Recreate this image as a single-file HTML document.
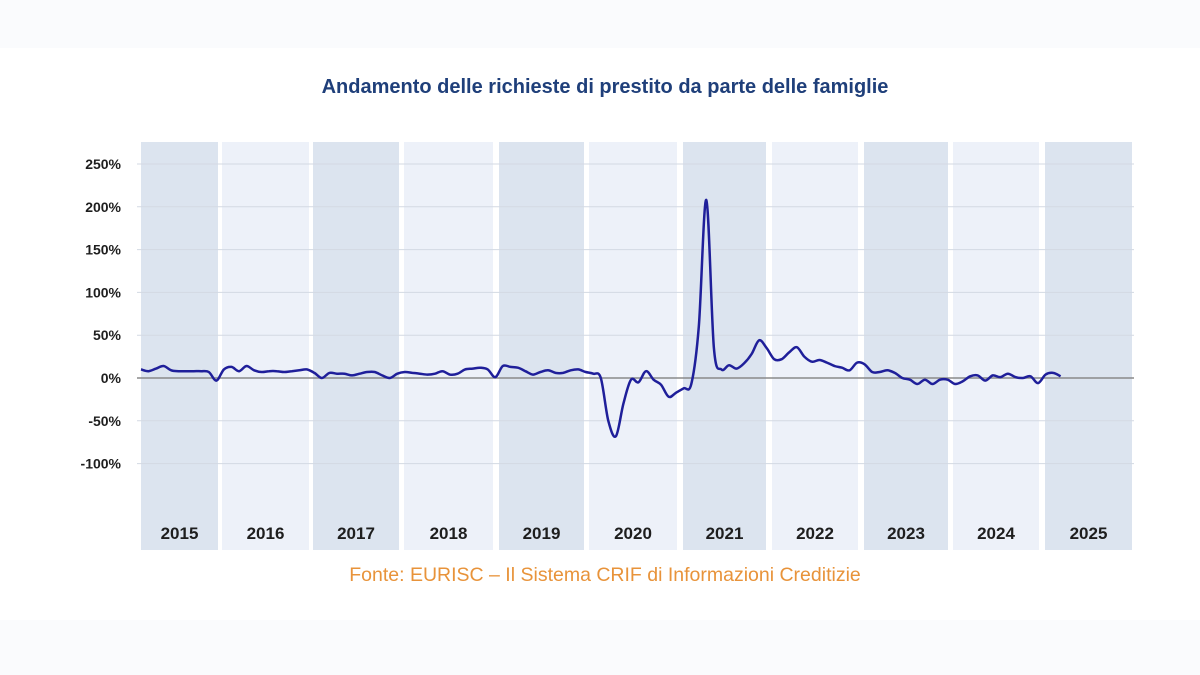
<!DOCTYPE html>
<html><head><meta charset="utf-8"><style>
html,body{margin:0;padding:0;background:#fafbfd;}
svg{display:block;font-family:"Liberation Sans",sans-serif;}
</style></head><body>
<svg width="1200" height="675" viewBox="0 0 1200 675">
<rect x="0" y="48" width="1200" height="572" fill="#ffffff"/>
<text x="605" y="93" text-anchor="middle" font-size="20" font-weight="bold" fill="#1f3f7a">Andamento delle richieste di prestito da parte delle famiglie</text>
<g id="bands"></g><g id="grid"></g><g id="ylabels"></g><g id="years"></g><g id="series"></g>
<text x="605" y="581" text-anchor="middle" font-size="19.5" fill="#e8933a">Fonte: EURISC – Il Sistema CRIF di Informazioni Creditizie</text>
</svg>
<script>
const years=["2015","2016","2017","2018","2019","2020","2021","2022","2023","2024","2025"];
const yTicks=[250,200,150,100,50,0,-50,-100];
const yTickLabels=["250%","200%","150%","100%","50%","0%","-50%","-100%"];
const vals2015=[10,8,11,14,9,8,8,8,8,7,-3,10];
const vals2016=[13,8,14,9,7,8,8,7,8,9,10,6];
const vals2017=[0,6,5,5,3,5,7,7,3,0,5,7];
const vals2018=[6,5,4,5,8,4,5,10,11,12,10,1];
const vals2019=[14,13,12,8,4,7,9,6,6,9,10,7];
const vals2020=[5,0,-50,-68,-30,-2,-5,8,-2,-8,-22,-17];
const vals2021=[-12,-7,60,208,35,10,15,11,17,28,44,35];
const vals2022=[22,22,30,36,25,19,21,18,14,12,9,18];
const vals2023=[16,7,7,9,6,0,-2,-7,-2,-7,-2,-2];
const vals2024=[-7,-4,2,3,-3,3,1,5,1,0,2,-6];
const vals2025=[4,6,2];
const values=[].concat(vals2015,vals2016,vals2017,vals2018,vals2019,vals2020,vals2021,vals2022,vals2023,vals2024,vals2025);
const NS="http://www.w3.org/2000/svg";
const bandL=[141,222,313,404,499,589,683,772,864,953,1045];
const bandR=[218,309,399,493,584,677,766,858,948,1039,1132];
const X0=139,YW=(1134-139)/11,MW=YW/12;
const xm=i=>X0+2+MW*i;
const yv=v=>378-v*0.856;
function mk(tag,attrs,parent){const e=document.createElementNS(NS,tag);for(const k in attrs)e.setAttribute(k,attrs[k]);parent.appendChild(e);return e;}
const bands=document.getElementById('bands'),grid=document.getElementById('grid'),yl=document.getElementById('ylabels'),yr=document.getElementById('years'),ser=document.getElementById('series');
years.forEach((y,k)=>{
  const r=mk('rect',{x:bandL[k],y:142,width:bandR[k]-bandL[k],height:408,fill:k%2?'#edf1f9':'#dce4ef'},bands);
  
  
  const t=mk('text',{x:(bandL[k]+bandR[k])/2,y:539,'text-anchor':'middle','font-size':17,'font-weight':'bold',fill:'#1e1e1e'},yr);
  t.textContent=y;
  
  
});
yTicks.forEach((v,k)=>{
  const l=mk('line',{x1:137,x2:1134,y1:yv(v),y2:yv(v),stroke:v===0?'#8a8a8a':'#d3d9e3','stroke-width':v===0?1.5:1},grid);
  
  
  const t=mk('text',{x:121,y:yv(v)+5,'text-anchor':'end','font-size':14,'font-weight':'bold',fill:'#1e1e1e'},yl);
  t.textContent=yTickLabels[k];
  
  
});
const pts=values.map((v,i)=>[xm(i),yv(v)]);
let d='M'+pts[0][0].toFixed(1)+','+pts[0][1].toFixed(1);
for(let i=0;i<pts.length-1;i++){
  const p0=pts[i-1]||pts[i],p1=pts[i],p2=pts[i+1],p3=pts[i+2]||p2;
  const c1=[p1[0]+(p2[0]-p0[0])/6,p1[1]+(p2[1]-p0[1])/6],c2=[p2[0]-(p3[0]-p1[0])/6,p2[1]-(p3[1]-p1[1])/6];
  d+=' C'+c1.map(n=>n.toFixed(1)).join(',')+' '+c2.map(n=>n.toFixed(1)).join(',')+' '+p2.map(n=>n.toFixed(1)).join(',');
}
const path=mk('path',{d:d,fill:'none',stroke:'#1f1f9a','stroke-width':2.5,'stroke-linejoin':'round'},ser);


</script>
</body></html>
